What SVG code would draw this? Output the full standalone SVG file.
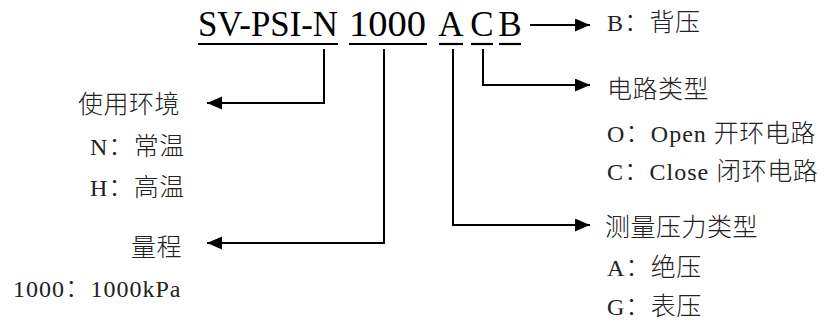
<svg xmlns="http://www.w3.org/2000/svg" width="827" height="324" viewBox="0 0 827 324">
<style>
.bg{fill:#ffffff}
.title{font-family:"Liberation Serif","Times New Roman",serif;font-size:35px;fill:#000}
.ul{stroke:#000;stroke-width:2.2}
.cj{font-family:"Noto Sans CJK SC",sans-serif;font-size:25px;font-weight:300;letter-spacing:0.5px;fill:#222}
.lt{font-family:"Liberation Serif","Times New Roman",serif;font-size:24px;font-weight:400;letter-spacing:1px}
.conn{fill:none;stroke:#000;stroke-width:2;marker-end:url(#arr)}
</style>
<defs>
<marker id="arr" markerUnits="userSpaceOnUse" markerWidth="16" markerHeight="14" refX="15" refY="6.5" orient="auto">
<path d="M0,0 L15,6.5 L0,13 Z" fill="#000"/>
</marker>
</defs>
<rect class="bg" x="0" y="0" width="827" height="324"/>

<g id="model">
<text class="title" x="198" y="36" textLength="140" lengthAdjust="spacingAndGlyphs">SV-PSI-N</text>
<line class="ul" x1="198" y1="44" x2="338" y2="44"/>
<text class="title" x="349" y="36" textLength="77" lengthAdjust="spacingAndGlyphs">1000</text>
<line class="ul" x1="349" y1="44" x2="427" y2="44"/>
<text class="title" x="451" y="36" text-anchor="middle">A</text>
<line class="ul" x1="439" y1="44" x2="463" y2="44"/>
<text class="title" x="482" y="36" text-anchor="middle">C</text>
<line class="ul" x1="471" y1="44" x2="493" y2="44"/>
<text class="title" x="510" y="36" text-anchor="middle">B</text>
<line class="ul" x1="499" y1="44" x2="521" y2="44"/>
</g>

<g id="connectors">
<path class="conn" d="M530,25 H590"/>
<path class="conn" d="M324,49 V103 H207"/>
<path class="conn" d="M384,49 V243 H207"/>
<path class="conn" d="M483,49 V85 H590"/>
<path class="conn" d="M453,49 V225 H590"/>
</g>

<g id="backpressure">
<text class="cj" x="607" y="31"><tspan class="lt">B</tspan>：背压</text>
</g>

<g id="environment">
<text class="cj" x="78" y="113">使用环境</text>
<text class="cj" x="90" y="154.5"><tspan class="lt">N</tspan>：常温</text>
<text class="cj" x="90" y="195.5"><tspan class="lt">H</tspan>：高温</text>
</g>

<g id="range">
<text class="cj" x="131" y="255.5">量程</text>
<text class="cj" x="13" y="297"><tspan class="lt">1000</tspan>：<tspan class="lt">1000kPa</tspan></text>
</g>

<g id="circuit">
<text class="cj" x="607" y="97.5">电路类型</text>
<text class="cj" x="607" y="141.5"><tspan class="lt">O</tspan>：<tspan class="lt">Open </tspan>开环电路</text>
<text class="cj" x="607" y="179.5"><tspan class="lt">C</tspan>：<tspan class="lt">Close </tspan>闭环电路</text>
</g>

<g id="pressure-type">
<text class="cj" x="605" y="235.5">测量压力类型</text>
<text class="cj" x="607" y="275.5"><tspan class="lt">A</tspan>：绝压</text>
<text class="cj" x="607" y="314.5"><tspan class="lt">G</tspan>：表压</text>
</g>
</svg>
